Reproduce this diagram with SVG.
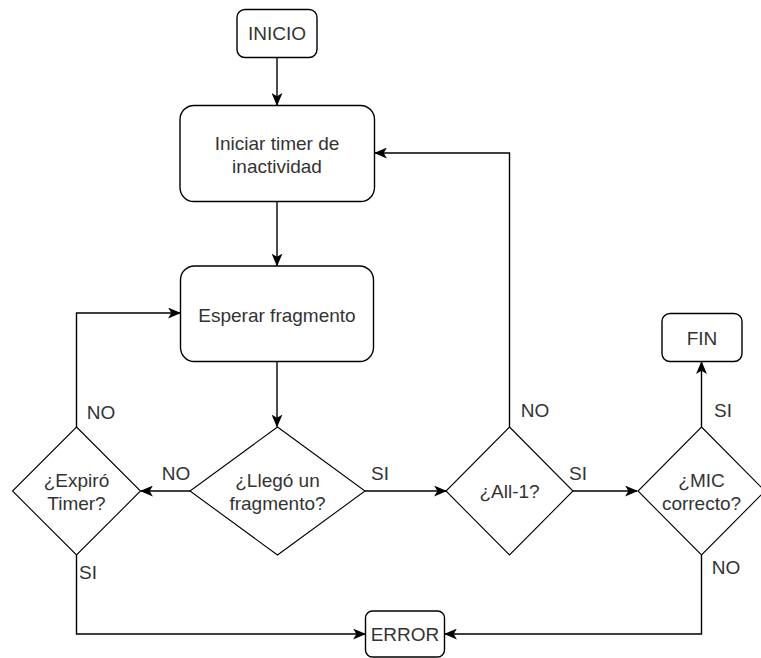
<svg xmlns="http://www.w3.org/2000/svg" width="761" height="658" viewBox="0 0 761 658">
  <style>
    .box { fill: #ffffff; stroke: #000000; stroke-width: 1.4; }
    .dia { fill: #ffffff; stroke: #000000; stroke-width: 1.1; }
    .edge { fill: none; stroke: #000000; stroke-width: 1.4; marker-end: url(#arrow); }
    text { font-family: "Liberation Sans", Arial, Helvetica, sans-serif; font-size: 19px; fill: #333333; }
    .c { text-anchor: middle; }
  </style>
  <defs>
    <marker id="arrow" viewBox="0 0 12 10" refX="11" refY="5" markerWidth="13" markerHeight="11" markerUnits="userSpaceOnUse" orient="auto">
      <path d="M0,0 L12,5 L0,10 L3,5 Z" fill="#000000"/>
    </marker>
  </defs>
  <rect width="761" height="658" fill="#ffffff"/>

  <g id="connectors">
    <path class="edge" d="M277,57.5 L277,105"/>
    <path class="edge" d="M277,201.5 L277,265.5"/>
    <path class="edge" d="M277,361.5 L277,426.5"/>
    <path class="edge" d="M190,491 L141,491"/>
    <path class="edge" d="M76.5,427 L76.5,313 L180,313"/>
    <path class="edge" d="M76.5,555 L76.5,634 L365,634"/>
    <path class="edge" d="M365,491 L446,491"/>
    <path class="edge" d="M509.5,427 L509.5,153 L375,153"/>
    <path class="edge" d="M573,491 L637,491"/>
    <path class="edge" d="M701.5,427 L701.5,362"/>
    <path class="edge" d="M701.5,555 L701.5,634 L445,634"/>
  </g>

  <g id="edge-labels">
    <text class="c" x="176" y="480">NO</text>
    <text class="c" x="101" y="419">NO</text>
    <text class="c" x="88" y="579">SI</text>
    <text class="c" x="380" y="480">SI</text>
    <text class="c" x="535" y="417">NO</text>
    <text class="c" x="578" y="480">SI</text>
    <text class="c" x="723" y="417">SI</text>
    <text class="c" x="726" y="574">NO</text>
  </g>

  <g id="inicio">
    <rect class="box" x="237" y="9.5" width="80" height="48" rx="8"/>
    <text class="c" x="277" y="40">INICIO</text>
  </g>

  <g id="iniciar-timer">
    <rect class="box" x="180" y="105.5" width="194.5" height="96" rx="14"/>
    <text class="c" x="277" y="150">Iniciar timer de</text>
    <text class="c" x="277" y="172.5">inactividad</text>
  </g>

  <g id="esperar-fragmento">
    <rect class="box" x="180.5" y="266" width="193" height="95.5" rx="14"/>
    <text class="c" x="277" y="321.5">Esperar fragmento</text>
  </g>

  <g id="llego-fragmento">
    <polygon class="dia" points="277.5,427 365,491 277.5,555 190,491"/>
    <text class="c" x="277.5" y="486.5">¿Llegó un</text>
    <text class="c" x="277.5" y="509.5">fragmento?</text>
  </g>

  <g id="expiro-timer">
    <polygon class="dia" points="76.5,427 140.5,491 76.5,555 12.5,491"/>
    <text class="c" x="76.5" y="486.5">¿Expiró</text>
    <text class="c" x="76.5" y="509.5">Timer?</text>
  </g>

  <g id="all-1">
    <polygon class="dia" points="509.5,427 573,491 509.5,555 446,491"/>
    <text class="c" x="509.5" y="497.5">¿All-1?</text>
  </g>

  <g id="mic-correcto">
    <polygon class="dia" points="701.5,427 765,491 701.5,555 638,491"/>
    <text class="c" x="701.5" y="486.5">¿MIC</text>
    <text class="c" x="701.5" y="509.5">correcto?</text>
  </g>

  <g id="fin">
    <rect class="box" x="662" y="313.5" width="80" height="48" rx="8"/>
    <text class="c" x="702" y="344.5">FIN</text>
  </g>

  <g id="error">
    <rect class="box" x="365.5" y="611" width="79" height="46" rx="7"/>
    <text class="c" x="405" y="641">ERROR</text>
  </g>
</svg>
